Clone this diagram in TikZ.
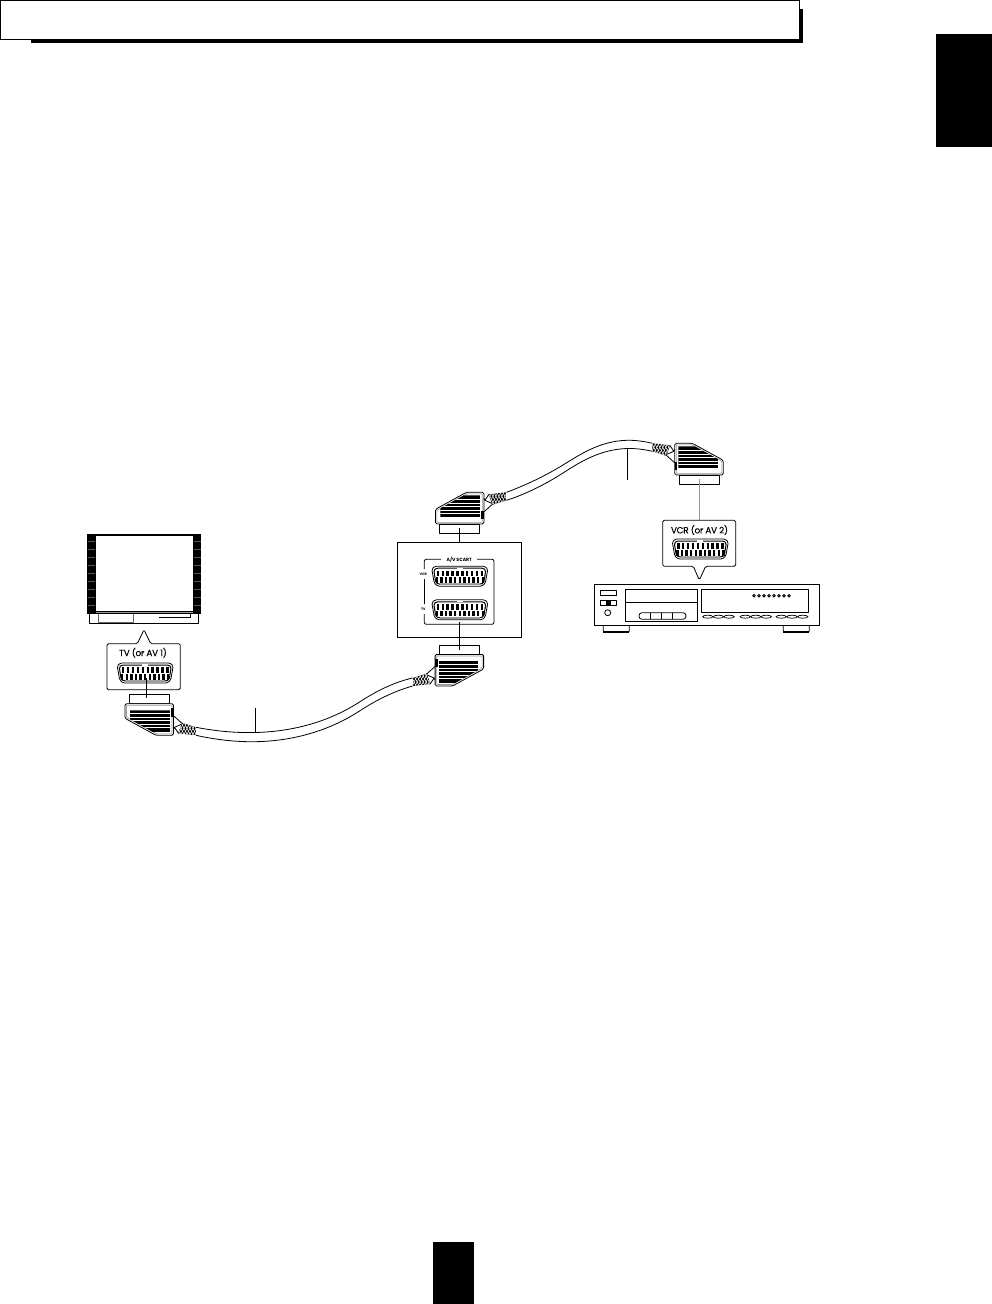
\documentclass[tikz,border=0pt]{standalone}
\usepackage{fontspec}
\setmainfont{Poppins}
\newfontfamily\portfont[FakeBold=0.25,LetterSpace=-2.5]{Poppins}
\definecolor{Cordgray}{RGB}{150,150,150}
\tikzset{
  thinline/.style={line width=0.8pt,line join=round},
  portlabel/.style={font=\portfont\fontsize{8.8}{9}\selectfont,inner sep=0pt},
  panellabel/.style={font=\bfseries\fontsize{4.6}{5}\selectfont,inner sep=0pt},
  tinylabel/.style={font=\bfseries\fontsize{3.4}{4}\selectfont,inner sep=0pt},
  scartsocket/.pic={
    \draw[thinline,rounded corners=1.5pt] (-25,-10) -- (25,-10) -- (28,-7) -- (25.5,7) -- (22,10) -- (-22,10) -- (-25.5,7) -- (-28,-7) -- cycle;
    \draw[line width=1pt,rounded corners=1.5pt] (-23.5,-8) -- (23.5,-8) -- (26,-6) -- (24,6.5) -- (21,8) -- (-21,8) -- (-24,6.5) -- (-26,-6) -- cycle;
    \draw[white,line width=1.2pt] (-3,-8) -- (3,-8);
    \draw[Cordgray,line width=1.2pt] (-20,8.2) -- (20,8.2);
    \foreach \i in {0,...,9} {
      \fill (-22+\i*4.9-1.2,-5.7) rectangle (-22+\i*4.9+1.2,0);
    }
    \foreach \i in {0,...,10} {
      \fill (-23+\i*4.6-1.2,1.2) rectangle (-23+\i*4.6+1.2,6.5);
    }
  },
  scartplug/.pic={
    \draw[thinline] (-20,0) rectangle (20,9.4);
    \draw[thinline,fill=white,rounded corners=1.5pt] (-24,9.4) -- (24.5,9.4) -- (24.5,41) -- (7,41) -- (-24,24) -- cycle;
    \draw[Cordgray,line width=0.6pt,rounded corners=1pt] (-22.5,11) -- (23,11) -- (23,39.5) -- (7.5,39.5) -- (-22.5,23) -- cycle;
    \begin{scope}
      \clip (-19,16) -- (21,16) -- (21,38) -- (4.5,38) -- (-19,25) -- cycle;
      \fill (-19,16) rectangle (21,38);
      \foreach \y in {19.5,23,26.5,30,33.5} {
        \draw[white,line width=0.9pt] (-19,\y) -- (21,\y);
      }
    \end{scope}
    \fill (22,14) rectangle (24.5,22.4);
    % strain relief behind the braid
    \draw[thinline] (24.5,21.4) -- (33.5,29.5) -- (29.5,39) -- (25.5,33) -- (24.5,35);
    \draw[thinline] (25.5,33) -- (33.5,29.5);
    % braid
    \begin{scope}
      \clip (33,28.5) -- (47,33) -- (47,41) -- (29.5,39) -- cycle;
      \fill (29,28) rectangle (47,41);
      \foreach \x in {22,25,...,49} {
        \draw[white,line width=0.55pt] (\x,26) -- (\x+8,42);
        \draw[white,line width=0.55pt] (\x+8,26) -- (\x,42);
      }
    \end{scope}
    \coordinate (-a) at (47,33);
    \coordinate (-b) at (47,41);
  }
}
\begin{document}
\begin{tikzpicture}[x=1pt,y=-1pt,line cap=butt]
\useasboundingbox (0,0) rectangle (992,1304);
% page furniture
\fill (31,9) rectangle (803,43);
\draw[line width=1pt,fill=white] (0.5,0.5) rectangle (799.5,39);
\fill (936,34) rectangle (992,147);
\fill (433,1242) rectangle (474,1304);
% television
\fill (87,534) rectangle (201,614);
\fill[white] (96,536) rectangle (193,611);
\draw[line width=0.6pt,Cordgray] (96,612) -- (193,612);
\foreach \y in {541,549,...,605} {
  \draw[black!65,line width=0.3pt] (87.5,\y) -- (95,\y);
  \draw[black!65,line width=0.3pt] (194,\y) -- (200.5,\y);
}
\draw[thinline] (89,614) -- (89,623.3) -- (198.7,623.3) -- (198.7,614);
\draw[thinline,black!60] (98.7,614) -- (98.7,622) -- (133,622) -- (133,614);
\draw[thinline] (159,617.7) -- (190.7,617.7) -- (190.7,614);
% callouts
\draw[thinline,rounded corners=1.5pt] (107,643.7) -- (137.3,643.7) -- (144,629.7) -- (150.7,643.7) -- (180.3,643.7) -- (180.3,689.7) -- (107,689.7) -- cycle;
\node[portlabel] (tvlabel) at (143,652.7) {TV (or AV 1)};
\pic (tvsocket) at (145.2,673) {scartsocket};
\draw[thinline,rounded corners=1.5pt] (662.7,520.3) -- (735.7,520.3) -- (735.7,566.3) -- (705.7,566.3) -- (699.3,580) -- (693.3,566.3) -- (662.7,566.3) -- cycle;
\node[portlabel] (vcrlabel) at (699.5,530) {VCR (or AV 2)};
\pic (vcrsocket) at (700.3,549) {scartsocket};
% amplifier panel
\draw[thinline] (397,542.3) rectangle (521,637);
\draw[thinline,rounded corners=2pt] (424.3,569) -- (424.3,559.3) -- (441,559.3);
\draw[thinline,rounded corners=2pt] (477,559.3) -- (494,559.3) -- (494,624.3) -- (424.3,624.3) -- (424.3,614);
\draw[thinline] (424.3,579) -- (424.3,604);
\node[panellabel] (scartlabel) at (459.3,559.3) {A/V SCART};
\node[tinylabel] (vcrtag) at (423.3,574.7) {VCR};
\node[tinylabel] (tvtag) at (423.3,609.3) {TV};
\pic (ampvcr) at (459.8,576.2) {scartsocket};
\pic (amptv) at (459.8,609.8) {scartsocket};
% plugs
\pic (tvplug) at (149,694.3) {scartplug};
\pic[xscale=-1] (amplow) at (459.6,645) {scartplug};
\pic[yscale=-1] (amphigh) at (459.4,533.3) {scartplug};
\pic[xscale=-1,yscale=-1] (vcrplug) at (699.3,484.3) {scartplug};
% cables
\draw[thinline] (tvplug-a) .. controls (215,731) and (235,733) .. (255,732.5) .. controls (300,731.5) and (335,718) .. (360,701.7) .. controls (378,690) and (395,682) .. (amplow-a);
\draw[thinline] (tvplug-b) .. controls (215,739.5) and (235,742) .. (255,741.7) .. controls (300,741) and (335,727) .. (360,710.7) .. controls (378,699) and (395,691) .. (amplow-b);
\draw[thinline] (amphigh-b) .. controls (525,485.5) and (545,476) .. (563,465) .. controls (580,454.5) and (600,441) .. (626.7,440.3) .. controls (635,440) and (645,441.5) .. (vcrplug-b);
\draw[thinline] (amphigh-a) .. controls (525,494.5) and (545,484.5) .. (563,473) .. controls (580,462) and (600,449.5) .. (626.7,448.5) .. controls (635,448.2) and (645,449.5) .. (vcrplug-a);
% leaders
\coordinate (tvtop) at (146.3,678.3);
\coordinate (tvbot) at (146.3,698.3);
\coordinate (lowtop) at (255,708);
\coordinate (lowbot) at (255,733.3);
\coordinate (hightop) at (627.3,448);
\coordinate (highbot) at (627.3,480);
\coordinate (amptop) at (459.3,528);
\coordinate (ampmid) at (459.3,542.3);
\coordinate (ampbot) at (459.3,622.3);
\coordinate (ampend) at (459.3,650);
\coordinate (vcrtop) at (699.3,479);
\coordinate (vcrbot) at (699.3,520.3);
\draw[thinline] (tvtop) -- (tvbot);
\draw[thinline] (lowtop) -- (lowbot);
\draw[thinline] (hightop) -- (highbot);
\draw[thinline] (amptop) -- (ampmid);
\draw[thinline] (ampbot) -- (ampend);
\draw[Cordgray,line width=1.2pt] (vcrtop) -- (vcrbot);
% deck
\draw[line width=1pt] (594.3,584.3) rectangle (819.7,625.3);
\draw[thinline] (600,590) rectangle (616,595.3);
\draw[thinline] (600,600) rectangle (616,605.3);
\fill (605.5,600) rectangle (610.5,605.3);
\draw[thinline] (607.7,612.7) circle (3);
\draw[thinline] (625.3,589.3) rectangle (697.3,621.3);
\draw[thinline] (625.3,602.7) -- (697.3,602.7);
\draw[thinline,rounded corners=3pt] (639,612.7) rectangle (686,619.3);
\foreach \x in {650,661.7,672.7} {
  \draw[thinline] (\x,612.7) -- (\x,619.3);
}
\draw[thinline] (701.7,589.3) rectangle (808.3,612.7);
\foreach \x in {754,759,764,769,774,779,784,789} {
  \draw[line width=0.9pt] (\x,595.7) circle (1.2);
}
\foreach \x in {707.8,718.4,729,745.3,755.8,766.3,781.3,792,802.7} {
  \draw[line width=0.7pt] (\x,616.7) ellipse (5.2 and 1.5);
}
\foreach \x in {603.3,783.3} {
  \draw[thinline,rounded corners=1pt] (\x,625.3) -- (\x,632) -- (\x+26,632) -- (\x+26,625.3);
  \fill (\x,630.7) rectangle (\x+26,633.3);
}
\end{tikzpicture}
\end{document}
